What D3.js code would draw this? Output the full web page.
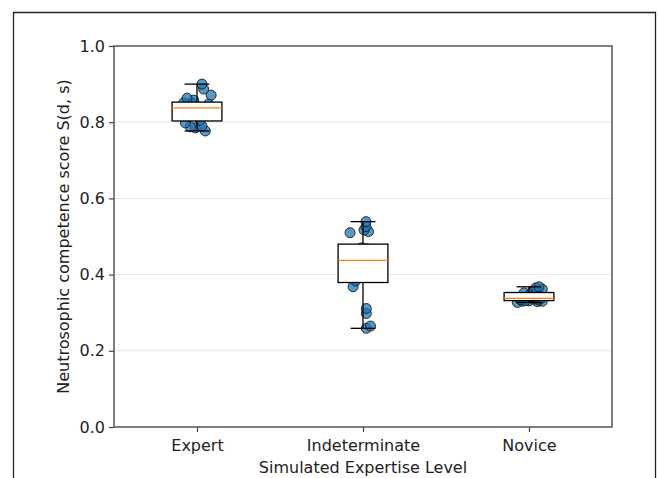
<!DOCTYPE html>
<html>
<head>
<meta charset="utf-8">
<script src="https://cdn.jsdelivr.net/npm/d3@7"></script>
<style>
  html, body { margin: 0; padding: 0; background: #fff; }
  svg { display: block; font-family: "DejaVu Sans", sans-serif; }
</style>
</head>
<body>
<svg id="chart" width="658" height="478"></svg>
<script>
// Expertise groups along the x axis
const categories = ["Expert", "Indeterminate", "Novice"];

// Competence scores per simulated participant (sorted)
const expertScores = [0.777, 0.785, 0.788, 0.790, 0.798, 0.805, 0.815, 0.822, 0.830, 0.835,
                      0.840, 0.845, 0.848, 0.850, 0.851, 0.858, 0.863, 0.871, 0.887, 0.900];
const indeterminateScores = [0.259, 0.265, 0.298, 0.311, 0.368, 0.383, 0.392, 0.405, 0.418, 0.432,
                             0.443, 0.452, 0.461, 0.468, 0.470, 0.510, 0.513, 0.517, 0.526, 0.539];
const noviceScores = [0.327, 0.329, 0.330, 0.330, 0.331, 0.332, 0.333, 0.334, 0.336, 0.337,
                      0.338, 0.342, 0.346, 0.350, 0.352, 0.356, 0.359, 0.362, 0.365, 0.368];

// Horizontal jitter of each point, in category units
const expertJitter = [0.05, -0.01, -0.04, 0.03, -0.07, 0.02, -0.05, 0.04, -0.02, 0.06,
                      0.01, -0.06, 0.07, -0.03, -0.08, -0.02, -0.06, 0.085, 0.04, 0.03];
const indeterminateJitter = [0.02, 0.045, 0.02, 0.02, -0.06, -0.045, 0.03, -0.02, 0.05, -0.04,
                             0.01, 0.06, -0.05, 0.02, -0.01, -0.078, 0.033, 0.006, 0.018, 0.018];
const noviceJitter = [-0.07, 0.05, -0.04, 0.08, 0.0, -0.02, 0.06, -0.05, 0.03, 0.07,
                      -0.06, 0.02, 0.0, 0.04, -0.03, 0.02, 0.05, 0.08, 0.04, 0.06];

const yTicks = [0.0, 0.2, 0.4, 0.6, 0.8, 1.0];

const groups = [
  { name: categories[0], values: expertScores, jitter: expertJitter },
  { name: categories[1], values: indeterminateScores, jitter: indeterminateJitter },
  { name: categories[2], values: noviceScores, jitter: noviceJitter }
];

const FONT = 16;
const svg = d3.select("#chart");
const margin = { left: 114, right: 46, top: 46, bottom: 51 };
const W = 658, H = 478;
const plotW = W - margin.left - margin.right;
const plotH = H - margin.top - margin.bottom;

// Figure frame
svg.append("path")
  .attr("d", `M13.5,${H + 2} V12.5 H655.5 V${H + 2}`)
  .attr("fill", "none")
  .attr("stroke", "#222")
  .attr("stroke-width", 1.3);

const g = svg.append("g").attr("transform", `translate(${margin.left},${margin.top})`);

// Positions 1..3 with half a unit of padding, as in a classic boxplot
const x = d3.scaleLinear().domain([0.5, 3.5]).range([0, plotW]);
const y = d3.scaleLinear().domain([0, 1]).range([plotH, 0]);

// Light horizontal grid
g.append("g")
  .selectAll("line")
  .data(yTicks.filter(t => t > 0 && t < 1))
  .join("line")
  .attr("x1", 0).attr("x2", plotW)
  .attr("y1", d => y(d)).attr("y2", d => y(d))
  .attr("stroke", "#e6e6e6")
  .attr("stroke-width", 1);

// Jittered individual scores
groups.forEach((grp, i) => {
  g.append("g")
    .selectAll("circle")
    .data(grp.values)
    .join("circle")
    .attr("cx", (d, j) => x(i + 1 + grp.jitter[j]))
    .attr("cy", d => y(d))
    .attr("r", 5)
    .attr("fill", "rgba(31,119,180,0.75)")
    .attr("stroke", "#1a1a1a")
    .attr("stroke-width", 0.9);
});

// Box-and-whisker per group (1.5 IQR whiskers)
const boxHalf = 0.15;
const capHalf = 0.075;
groups.forEach((grp, i) => {
  const s = grp.values.slice().sort(d3.ascending);
  const q1 = d3.quantile(s, 0.25);
  const med = d3.quantile(s, 0.5);
  const q3 = d3.quantile(s, 0.75);
  const iqr = q3 - q1;
  const lo = d3.min(s.filter(v => v >= q1 - 1.5 * iqr));
  const hi = d3.max(s.filter(v => v <= q3 + 1.5 * iqr));
  const cx = i + 1;
  const bg = g.append("g");
  bg.append("line")
    .attr("x1", x(cx)).attr("x2", x(cx))
    .attr("y1", y(hi)).attr("y2", y(q3))
    .attr("stroke", "#000").attr("stroke-width", 1.3);
  bg.append("line")
    .attr("x1", x(cx)).attr("x2", x(cx))
    .attr("y1", y(q1)).attr("y2", y(lo))
    .attr("stroke", "#000").attr("stroke-width", 1.3);
  [lo, hi].forEach(v => {
    bg.append("line")
      .attr("x1", x(cx - capHalf)).attr("x2", x(cx + capHalf))
      .attr("y1", y(v)).attr("y2", y(v))
      .attr("stroke", "#000").attr("stroke-width", 1.3);
  });
  bg.append("rect")
    .attr("x", x(cx - boxHalf))
    .attr("y", y(q3))
    .attr("width", x(cx + boxHalf) - x(cx - boxHalf))
    .attr("height", y(q1) - y(q3))
    .attr("fill", "#fff")
    .attr("stroke", "#000")
    .attr("stroke-width", 1.3);
  bg.append("line")
    .attr("x1", x(cx - boxHalf)).attr("x2", x(cx + boxHalf))
    .attr("y1", y(med)).attr("y2", y(med))
    .attr("stroke", "#ff7f0e").attr("stroke-width", 1.3);
});

// Axes
const yAxis = d3.axisLeft(y).tickValues(yTicks).tickFormat(d3.format(".1f")).tickSizeOuter(0).tickSize(5).tickPadding(4);
const xAxis = d3.axisBottom(x).tickValues([1, 2, 3]).tickFormat(d => categories[d - 1]).tickSizeOuter(0).tickSize(5).tickPadding(8);

const ya = g.append("g").call(yAxis);
const xa = g.append("g").attr("transform", `translate(0,${plotH})`).call(xAxis);
[ya, xa].forEach(a => {
  a.select(".domain").remove();
  a.selectAll("line").attr("stroke", "#444").attr("stroke-width", 1.2);
  a.selectAll("text").attr("font-size", FONT).attr("fill", "#222")
    .attr("font-family", "DejaVu Sans, sans-serif");
});

// Spines
g.append("rect")
  .attr("x", 0).attr("y", 0)
  .attr("width", plotW).attr("height", plotH)
  .attr("fill", "none")
  .attr("stroke", "#555")
  .attr("stroke-width", 1.5);

// Axis titles
svg.append("text")
  .attr("x", margin.left + plotW / 2)
  .attr("y", 473)
  .attr("text-anchor", "middle")
  .attr("font-size", FONT)
  .attr("fill", "#222")
  .text("Simulated Expertise Level");

svg.append("text")
  .attr("transform", `translate(69,${margin.top + plotH / 2}) rotate(-90)`)
  .attr("text-anchor", "middle")
  .attr("font-size", FONT)
  .attr("fill", "#222")
  .text("Neutrosophic competence score S(d, s)");
</script>
</body>
</html>
